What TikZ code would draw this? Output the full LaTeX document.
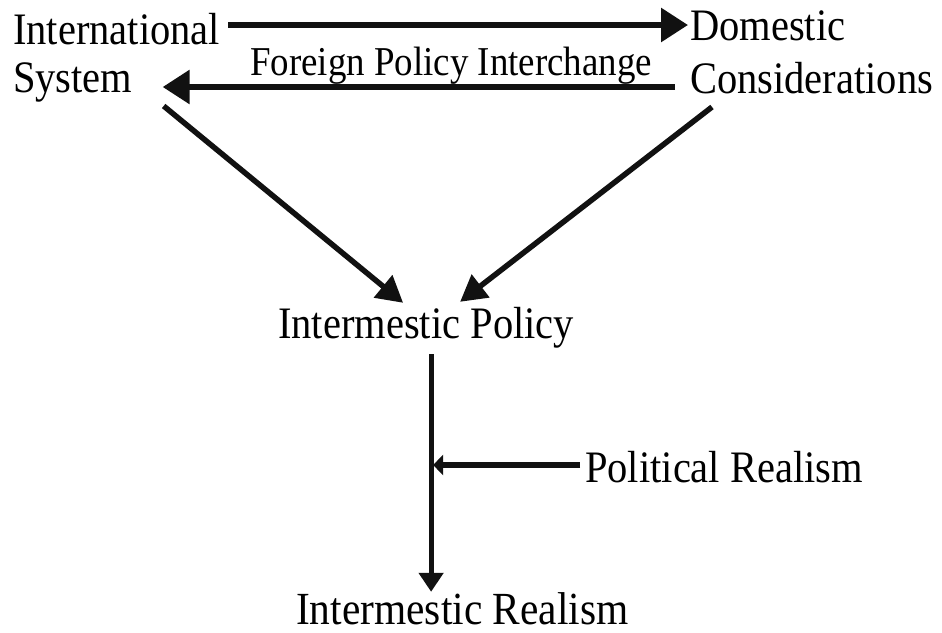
\documentclass[tikz,border=0pt]{standalone}
\usepackage{fontspec}
\setmainfont[FakeStretch=0.9]{Liberation Serif}
\usetikzlibrary{arrows.meta,calc}
\definecolor{ink}{HTML}{111111}
\tikzset{
  lbl/.style={anchor=base west, inner sep=0pt, text height=30pt, text depth=0pt, font=\fontsize{45}{48}\selectfont, text=black},
  lblsmall/.style={anchor=base west, inner sep=0pt, text height=27pt, text depth=0pt, font=\fontsize{41}{44}\selectfont, text=black},
  bigarrow/.style={draw=ink, line width=6pt, -{Triangle[length=27pt,width=33pt]}},
  diagarrow/.style={draw=ink, line width=5.5pt, -{Triangle[length=26pt,width=28pt]}},
  vertarrow/.style={draw=ink, line width=5pt, -{Triangle[length=19pt,width=24pt]}},
  smallarrow/.style={draw=ink, line width=5.5pt, -{Triangle[length=10pt,width=20pt]}}
}
\begin{document}
\begin{tikzpicture}[x=1pt,y=-1pt]
\useasboundingbox[fill=white] (0,0) rectangle (942,632);
\node[lbl] (intl) at (13,44) {International};
\node[lbl] (sys) at (13,92) {System};
\node[lbl] (dom) at (690,40) {Domestic};
\node[lbl] (cons) at (690,93) {Considerations};
\node[lblsmall] (fpi) at (250,75) {Foreign Policy Interchange};
\node[lbl] (ipol) at (278,338) {Intermestic Policy};
\node[lbl] (prl) at (585,482) {Political Realism};
\node[lbl,font=\fontsize{46}{48}\selectfont] (ireal) at (296,624) {Intermestic Realism};
\coordinate (vtop) at ($(ipol.south)+(5,16)$);
\coordinate (vbot) at (vtop |- ireal.north);
% top arrow
\draw[bigarrow] ([xshift=8pt]intl.east |- dom.west) -- ([xshift=-2pt]dom.west);
% bottom arrow
\draw[bigarrow] ($(cons.west)+(-15,9)$) -- ($(sys.east |- cons.west)+(30,9)$);
% diagonals
\draw[diagarrow] ($(sys.east)+(31,29)$) -- ($(ipol.north)+(-23,-5)$);
\draw[diagarrow] ($(cons.west)+(22,29)$) -- ($(ipol.north)+(34,-6)$);
% vertical
\draw[vertarrow] (vtop) -- ($(vbot)+(0,-2)$);
% political realism
\draw[smallarrow] ($(prl.west)+(-5,-2)$) -- ($(vtop |- prl.west)+(2,-2)$);
\end{tikzpicture}
\end{document}
